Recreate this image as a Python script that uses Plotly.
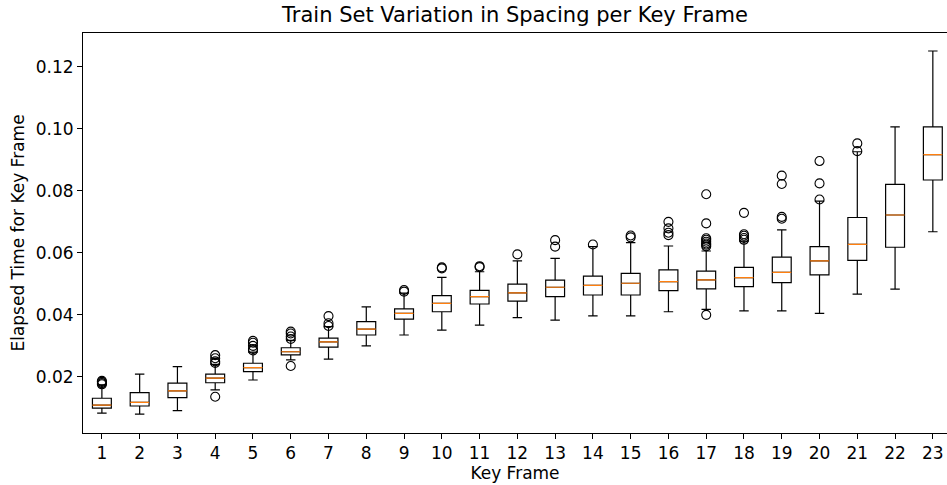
import plotly.graph_objects as go

frames = list(range(1, 24))
q1 = [0.0099, 0.0106, 0.0133, 0.0181, 0.0217, 0.0271, 0.0296, 0.0335, 0.0386, 0.0410,
      0.0435, 0.0444, 0.0459, 0.0464, 0.0464, 0.0478, 0.0484, 0.0491, 0.0504, 0.0529,
      0.0576, 0.0618, 0.0835]
medians = [0.0109, 0.0118, 0.0155, 0.0196, 0.0230, 0.0281, 0.0313, 0.0354, 0.0405, 0.0437,
           0.0459, 0.0471, 0.0489, 0.0495, 0.0502, 0.0507, 0.0513, 0.0520, 0.0537, 0.0574,
           0.0627, 0.0722, 0.0917]
q3 = [0.0131, 0.0149, 0.0180, 0.0209, 0.0244, 0.0294, 0.0325, 0.0378, 0.0419, 0.0462,
      0.0479, 0.0499, 0.0512, 0.0525, 0.0534, 0.0545, 0.0541, 0.0553, 0.0586, 0.0620,
      0.0714, 0.0821, 0.1006]
whisker_low = [0.0083, 0.0080, 0.0091, 0.0158, 0.0190, 0.0255, 0.0257, 0.0300, 0.0335, 0.0351,
               0.0367, 0.0391, 0.0383, 0.0397, 0.0397, 0.0410, 0.0418, 0.0413, 0.0413, 0.0405,
               0.0467, 0.0483, 0.0668]
whisker_high = [0.0174, 0.0209, 0.0233, 0.0240, 0.0280, 0.0318, 0.0362, 0.0426, 0.0470, 0.0521,
                0.0539, 0.0574, 0.0582, 0.0620, 0.0633, 0.0622, 0.0606, 0.0638, 0.0674, 0.0767,
                0.0926, 0.1006, 0.1251]
outliers = {
    1: [0.0176, 0.0180, 0.0184, 0.0187],
    4: [0.0245, 0.0250, 0.0260, 0.0270, 0.0136],
    5: [0.0285, 0.0290, 0.0300, 0.0310, 0.0316],
    6: [0.0322, 0.0330, 0.0340, 0.0346, 0.0235],
    7: [0.0364, 0.0373, 0.0396],
    9: [0.0475, 0.0480],
    10: [0.0550, 0.0553],
    11: [0.0554, 0.0557],
    12: [0.0595],
    13: [0.0620, 0.0641],
    14: [0.0627],
    15: [0.0650, 0.0656],
    16: [0.0657, 0.0665, 0.0679, 0.0700],
    17: [0.0621, 0.0626, 0.0630, 0.0636, 0.0642, 0.0647, 0.0695, 0.0789, 0.0400],
    18: [0.0642, 0.0648, 0.0655, 0.0660, 0.0729],
    19: [0.0710, 0.0716, 0.0822, 0.0849],
    20: [0.0772, 0.0824, 0.0896],
    21: [0.0928, 0.0953],
}

out_x = [k for k, vals in outliers.items() for _ in vals]
out_y = [v for vals in outliers.values() for v in vals]

fig = go.Figure()
fig.add_trace(go.Box(
    x=frames, q1=q1, median=medians, q3=q3,
    lowerfence=whisker_low, upperfence=whisker_high,
    width=0.5, whiskerwidth=0.5,
    line=dict(color="black", width=1.2),
    fillcolor="rgba(0,0,0,0)",
    boxpoints=False, showlegend=False, hoverinfo="skip",
))
fig.add_trace(go.Box(
    x=frames, q1=medians, median=medians, q3=medians,
    lowerfence=medians, upperfence=medians,
    width=0.5, whiskerwidth=0,
    line=dict(color="#ff7f0e", width=1.2),
    fillcolor="rgba(0,0,0,0)",
    boxpoints=False, showlegend=False, hoverinfo="skip",
))
fig.add_trace(go.Scatter(
    x=out_x, y=out_y, mode="markers",
    marker=dict(symbol="circle-open", size=9, color="black", line=dict(width=1.1)),
    showlegend=False, hoverinfo="skip",
))

font = "DejaVu Sans"
fig.update_layout(
    width=947, height=485,
    margin=dict(l=83, r=0, t=33, b=52),
    paper_bgcolor="white", plot_bgcolor="white",
    boxmode="overlay",
    font=dict(family=font, size=17, color="black"),
    title=dict(text="Train Set Variation in Spacing per Key Frame",
               x=0.5, xanchor="center", xref="paper", y=0.985, yanchor="top",
               font=dict(family=font, size=21, color="black")),
)
fig.update_xaxes(
    range=[0.5, 23.375], tickmode="array", tickvals=frames,
    ticktext=[str(f) for f in frames],
    ticks="outside", ticklen=5, tickcolor="black", tickwidth=1,
    showline=True, linecolor="black", linewidth=1, mirror=True,
    showgrid=False, zeroline=False,
    title=dict(text="Key Frame", font=dict(size=17), standoff=4),
    tickfont=dict(size=17),
)
fig.update_yaxes(
    range=[0.0019, 0.1309], tickmode="array",
    tickvals=[0.02, 0.04, 0.06, 0.08, 0.10, 0.12],
    ticktext=["0.02", "0.04", "0.06", "0.08", "0.10", "0.12"],
    ticks="outside", ticklen=5, tickcolor="black", tickwidth=1,
    showline=True, linecolor="black", linewidth=1, mirror=False,
    showgrid=False, zeroline=False,
    title=dict(text="Elapsed Time for Key Frame", font=dict(size=17), standoff=6),
    tickfont=dict(size=17),
)

fig.write_html("out.html")
